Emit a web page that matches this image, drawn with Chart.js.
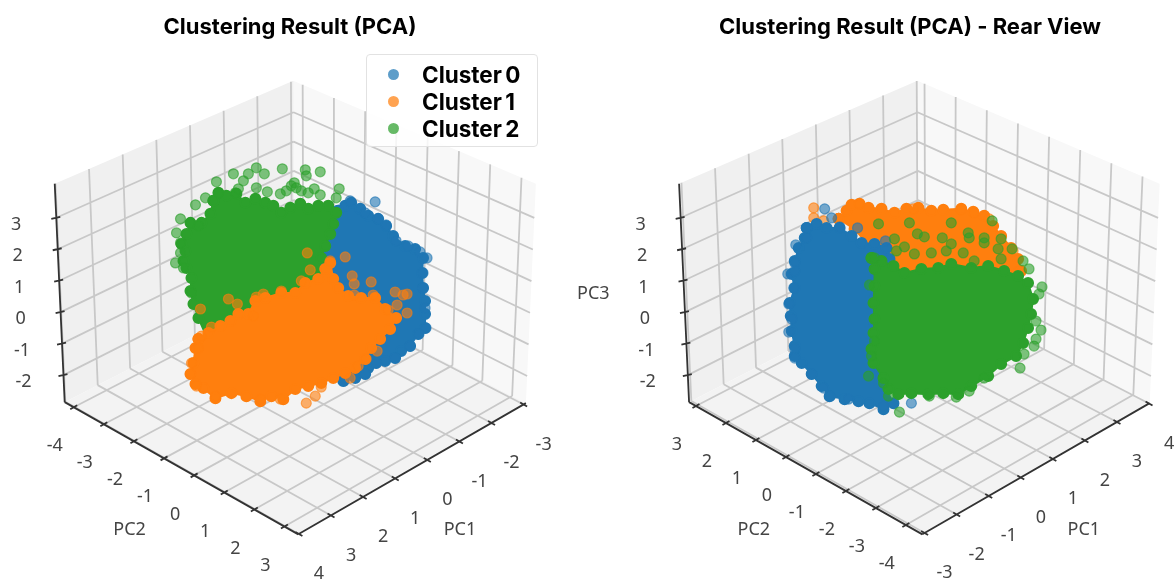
<!DOCTYPE html>
<html>
<head>
<meta charset="utf-8">
<script src="https://cdn.jsdelivr.net/npm/chart.js@4"></script>
<style>
html,body{margin:0;padding:0;width:1176px;height:579px;overflow:hidden;background:#fff}
canvas{position:absolute;top:0}
#legend{position:absolute;left:366px;top:54px;width:172px;height:93px;box-sizing:border-box;background:rgba(255,255,255,.82);border:1.5px solid #e2e2e2;border-radius:4px;font:bold 22.5px Inter,sans-serif;color:#000}
#legend div{position:absolute;left:55px;line-height:27px;white-space:nowrap;word-spacing:-2px}
#legend i{position:absolute;left:-34px;top:8px;width:11px;height:11px;border-radius:50%}
</style>
</head>
<body>
<canvas id="a" width="580" height="579" style="left:0"></canvas>
<canvas id="b" width="680" height="579" style="left:570px"></canvas>
<div id="legend"></div>
<script>
// ---- tick values and texts
const pc1Ticks = [-3,-2,-1,0,1,2,3,4];
const pc2Ticks = [-4,-3,-2,-1,0,1,2,3];
const pc3Ticks = [-2,-1,0,1,2,3];
const clusterNames = ['Cluster 0','Cluster 1','Cluster 2'];
const titleFront = 'Clustering Result (PCA)';
const titleRear = 'Clustering Result (PCA) - Rear View';

// ---- points, in view-plane units [across, up]
// front view: scattered markers
const front0 = [[55,100],[80,99],[70,88],[91,76],[113,55],[125,49],[132,43],[128,28],[128,13],[130,-7],[131,-27],[124,-33],[115,-45],[100,-57],[81,-62],[70,-73],[49,-80],[83,82],[101,60]];
const front1 = [[12,48],[50,44],[35,40],[15,31],[57,25],[76,19],[59,17],[100,9],[112,7],[108,6],[59,6],[78,6],[102,-4],[112,-12],[93,-9],[-67,2],[-95,-8],[-84,-26],[-58,-3],[-32,7],[-39,4],[-14,10],[6,20],[-42,-15],[82,-50],[71,-58],[63,-65],[55,-77],[26,-86],[20,-95],[11,-102],[-15,-98],[-35,-98],[-105,-73],[-104,-62],[-99,-85],[-80,-95],[-94,-35],[-97,-47]];
const front2 = [[-13,132],[10,131],[25,129],[11,125],[-39,133],[-47,127],[-31,127],[-62,127],[-52,120],[-79,119],[-39,113],[-28,109],[-15,107],[-1,118],[-4,115],[6,110],[19,112],[25,106],[13,108],[44,112],[41,103],[-90,103],[-100,96],[-115,82],[-119,68],[-115,58],[-120,38],[-115,48],[-112,33],[-104,8],[-77,108],[-60,108],[-105,78],[-97,75],[-57,112],[-9,110],[1,113]];
// front view: outlines of the solid, fully overplotted masses
const frontMass0 = [[43,90],[50,95],[56,98],[65,92],[73,85],[83,82],[91,75],[98,65],[110,55],[120,52],[128,43],[127,28],[128,13],[130,0],[130,-13],[130,-27],[123,-33],[115,-45],[106,-50],[100,-57],[90,-60],[81,-62],[73,-67],[70,-73],[60,-77],[48,-80],[30,-70],[10,-20],[26,40],[33,67]];
const frontMass1 = [[-97,-38],[-87,-32],[-75,-25],[-65,-20],[-57,-13],[-47,-13],[-40,0],[-30,3],[-14,8],[0,8],[10,18],[23,22],[30,32],[35,38],[38,22],[43,13],[53,5],[66,3],[80,3],[90,-8],[101,-17],[95,-28],[85,-38],[76,-47],[70,-58],[60,-67],[50,-72],[38,-77],[26,-82],[13,-85],[0,-88],[-12,-98],[-24,-95],[-35,-100],[-49,-95],[-64,-92],[-80,-97],[-92,-87],[-100,-83],[-105,-73],[-102,-62],[-100,-47]];
const frontMass2 = [[-82,100],[-77,108],[-69,105],[-59,107],[-50,98],[-40,102],[-30,98],[-22,95],[-14,88],[-5,93],[5,97],[13,92],[23,95],[33,95],[41,88],[38,77],[35,67],[30,55],[26,43],[24,30],[10,5],[-14,-5],[-40,-10],[-57,-25],[-70,-32],[-87,-40],[-97,-17],[-102,-3],[-105,10],[-104,23],[-109,33],[-112,40],[-110,50],[-114,57],[-109,67],[-105,78],[-94,78],[-85,87]];
// rear view: scattered markers
const rear0 = [[-95,92],[-88,83],[-124,56],[-125,38],[-132,27],[-125,30],[-126,13],[-131,-3],[-128,-18],[-131,-31],[-125,-48],[-125,-57],[-108,-73],[-96,-87],[-90,-95],[-71,-98],[-36,-105],[-8,-102],[-80,74],[-62,73],[-34,60],[-113,73],[-113,63],[-6,-85]];
const rear1 = [[-106,93],[-106,83],[-96,80],[-60,97],[-6,92],[42,91],[55,88],[70,82],[94,50],[100,30]];
const rear2 = [[-41,77],[-10,78],[32,78],[73,80],[-2,67],[5,64],[23,63],[49,68],[50,63],[65,63],[82,62],[-25,62],[93,52],[65,58],[32,57],[-15,54],[12,48],[27,50],[-23,50],[-5,47],[79,52],[44,48],[82,42],[55,40],[-45,43],[104,40],[110,32],[123,14],[120,7],[117,-20],[122,-29],[117,-38],[115,-45],[105,-53],[101,-67],[-50,16],[-45,-40],[-51,-75],[-36,-82],[-31,-95],[-20,-111],[50,-90],[37,-96],[10,-95],[-48,-55],[65,-77]];
// rear view: outlines of the solid masses
const rearMass0 = [[-113,73],[-103,77],[-93,73],[-80,73],[-68,65],[-58,58],[-45,57],[-33,53],[-30,42],[-40,25],[-45,2],[-45,-22],[-43,-42],[-40,-62],[-35,-85],[-26,-102],[-36,-108],[-50,-102],[-61,-100],[-75,-98],[-90,-95],[-98,-85],[-108,-73],[-118,-62],[-125,-55],[-125,-45],[-128,-30],[-129,-15],[-130,-2],[-125,13],[-128,27],[-125,40],[-121,53],[-115,63]];
const rearMass1 = [[-81,82],[-73,90],[-68,96],[-60,97],[-51,93],[-38,92],[-25,88],[-13,92],[-1,93],[12,90],[24,91],[42,92],[54,89],[65,85],[74,75],[82,65],[92,53],[99,42],[102,30],[52,15],[-31,32],[-65,72]];
const rearMass2 = [[-48,43],[-38,40],[-26,35],[-15,28],[2,32],[19,33],[32,37],[52,33],[69,35],[85,30],[99,25],[109,18],[114,2],[112,-13],[109,-27],[104,-42],[97,-55],[82,-63],[69,-75],[52,-85],[39,-93],[24,-92],[9,-93],[-8,-92],[-21,-93],[-31,-88],[-36,-77],[-46,-62],[-48,-48],[-46,-32],[-45,-18],[-46,-2],[-45,15],[-45,32]];

const solid = ['#1f77b4','#ff7f0e','#2ca02c'];
const soft = ['rgba(31,119,180,.6)','rgba(255,127,14,.6)','rgba(44,160,44,.6)'];

// ---- box corners in view-plane units
const cBack=[-1,17], cRight=[231,-102], cLeft=[-231,-101], cFront=[3,-233];
const hBack=[-1,203], hRight=[10,219], hLeft=[-10,218], hFront=[0,218];
function bil(B,R,L,F,u,v,i){return (1-u)*(1-v)*B[i]+(1-u)*v*R[i]+u*(1-v)*L[i]+u*v*F[i];}
function P(u,v,w){return {
  x:bil(cBack,cRight,cLeft,cFront,u,v,0)+w*bil(hBack,hRight,hLeft,hFront,u,v,0),
  y:bil(cBack,cRight,cLeft,cFront,u,v,1)+w*bil(hBack,hRight,hLeft,hFront,u,v,1)};}
const W=(t)=>(t+2.86)/6.94;
const GAP={x:NaN,y:NaN};
function segs(list){const o=[];list.forEach(s=>{o.push(s[0],s[1],GAP);});return o;}
const pts=a=>a.map(p=>({x:p[0],y:p[1]}));

function build(id,cfg){
  const U=cfg.U,V=cfg.V, g=[];
  pc1Ticks.forEach(t=>{const u=U(t);g.push([P(u,0,0),P(u,1,0)],[P(u,0,0),P(u,0,1)]);});
  pc2Ticks.forEach(t=>{const v=V(t);g.push([P(0,v,0),P(1,v,0)],[P(0,v,0),P(0,v,1)]);});
  pc3Ticks.forEach(t=>{const w=W(t);g.push([P(0,0,w),P(1,0,w)],[P(0,0,w),P(0,1,w)]);});
  const ticks=[];
  pc3Ticks.forEach(t=>{const p=P(1,0,W(t));ticks.push([{x:p.x-5,y:p.y-1},{x:p.x+4,y:p.y+1}]);});
  pc2Ticks.forEach(t=>{const p=P(1,V(t),0);ticks.push([{x:p.x-3.5,y:p.y-2},{x:p.x+3.5,y:p.y+2}]);});
  pc1Ticks.forEach(t=>{const p=P(U(t),1,0);ticks.push([{x:p.x+3.5,y:p.y-2},{x:p.x-3.5,y:p.y+2}]);});
  const line=(data,color,width,order)=>({type:'scatter',data,showLine:true,borderColor:color,borderWidth:width,pointRadius:0,fill:false,order,spanGaps:false});
  const pane=(a,color)=>({type:'scatter',data:[...a,a[0]],showLine:true,borderWidth:0,pointRadius:0,backgroundColor:color,borderColor:color,fill:'shape',order:20});
  const ds=[
    pane([P(0,0,0),P(1,0,0),P(1,1,0),P(0,1,0)],'#f3f3f3'),
    pane([P(0,0,0),P(1,0,0),P(1,0,1),P(0,0,1)],'#f0f0f0'),
    pane([P(0,0,0),P(0,1,0),P(0,1,1),P(0,0,1)],'#f8f8f8'),
    line(segs(g),'#c8c8c8',1.8,15),
    line(segs([[P(1,0,0),P(1,0,1)],[P(1,0,0),P(1,1,0)],[P(0,1,0),P(1,1,0)],...ticks]),'#333',1.8,10)
  ];
  cfg.clusters.forEach(c=>{
    ds.push({type:'scatter',label:clusterNames[c.i],data:pts(c.points),pointRadius:5,pointBackgroundColor:soft[c.i],pointBorderColor:soft[c.i],pointBorderWidth:1.2,showLine:false,order:c.order});
    ds.push({type:'scatter',label:clusterNames[c.i]+' mass',data:pts([...c.mass,c.mass[0]]),showLine:true,pointRadius:5,pointBackgroundColor:solid[c.i],pointBorderColor:solid[c.i],borderColor:solid[c.i],backgroundColor:solid[c.i],borderWidth:2,borderJoinStyle:'round',fill:'shape',order:c.order+0.5});
  });
  const textPlugin={id:'axisText',afterDatasetsDraw(ch){
    const c=ch.ctx,sx=ch.scales.x,sy=ch.scales.y;
    c.save();c.font='18px "Noto Sans"';c.fillStyle='#444';c.textAlign='center';c.textBaseline='middle';
    const put=(s,p,dx,dy)=>c.fillText(s,sx.getPixelForValue(p.x)+dx,sy.getPixelForValue(p.y)+dy);
    pc3Ticks.forEach(t=>put(String(t),P(1,0,W(t)),-40,7));
    pc2Ticks.forEach(t=>put(String(t),P(1,V(t),0),-19,39));
    pc1Ticks.forEach(t=>put(String(t),P(U(t),1,0),20,40));
    cfg.axisNames.forEach(n=>put(n[0],{x:n[1],y:n[2]},0,0));
    c.restore();
  }};
  new Chart(document.getElementById(id),{
    type:'scatter',
    data:{datasets:ds},
    plugins:[textPlugin],
    options:{responsive:false,animation:false,
      layout:{padding:0},
      plugins:{legend:{display:false},tooltip:{enabled:false},
        title:{display:true,text:cfg.title,color:'#000',font:{family:'Inter',size:22,weight:'bold',lineHeight:1.2},padding:{top:14,bottom:0}}},
      scales:{
        x:{type:'linear',display:false,min:cfg.xMin,max:cfg.xMax},
        y:{type:'linear',display:false,min:-270.6,max:260.2}}
    }
  });
}

build('a',{title:titleFront,xMin:-288.8,xMax:278.2,
  U:t=>(t+3.07)/7.09, V:t=>(t+4.3)/7.76,
  axisNames:[['PC2',-166,-229],['PC1',165,-229]],
  clusters:[{i:1,points:front1,mass:frontMass1,order:1},{i:2,points:front2,mass:frontMass2,order:3},{i:0,points:front0,mass:frontMass0,order:5}]});
build('b',{title:titleRear,xMin:-343.4,xMax:324.6,
  U:t=>(4.02-t)/7.09, V:t=>(3.23-t)/7.78,
  axisNames:[['PC2',-166,-229],['PC1',165,-229],['PC3',-327,7]],
  clusters:[{i:2,points:rear2,mass:rearMass2,order:1},{i:0,points:rear0,mass:rearMass0,order:3},{i:1,points:rear1,mass:rearMass1,order:5}]});

const lg=document.getElementById('legend');
clusterNames.forEach((n,i)=>{const d=document.createElement('div');d.style.top=(6+i*27)+'px';
  d.innerHTML='<i style="background:'+soft[i].replace('.6)','.72)')+'"></i>'+n;lg.appendChild(d);});
</script>
</body>
</html>
